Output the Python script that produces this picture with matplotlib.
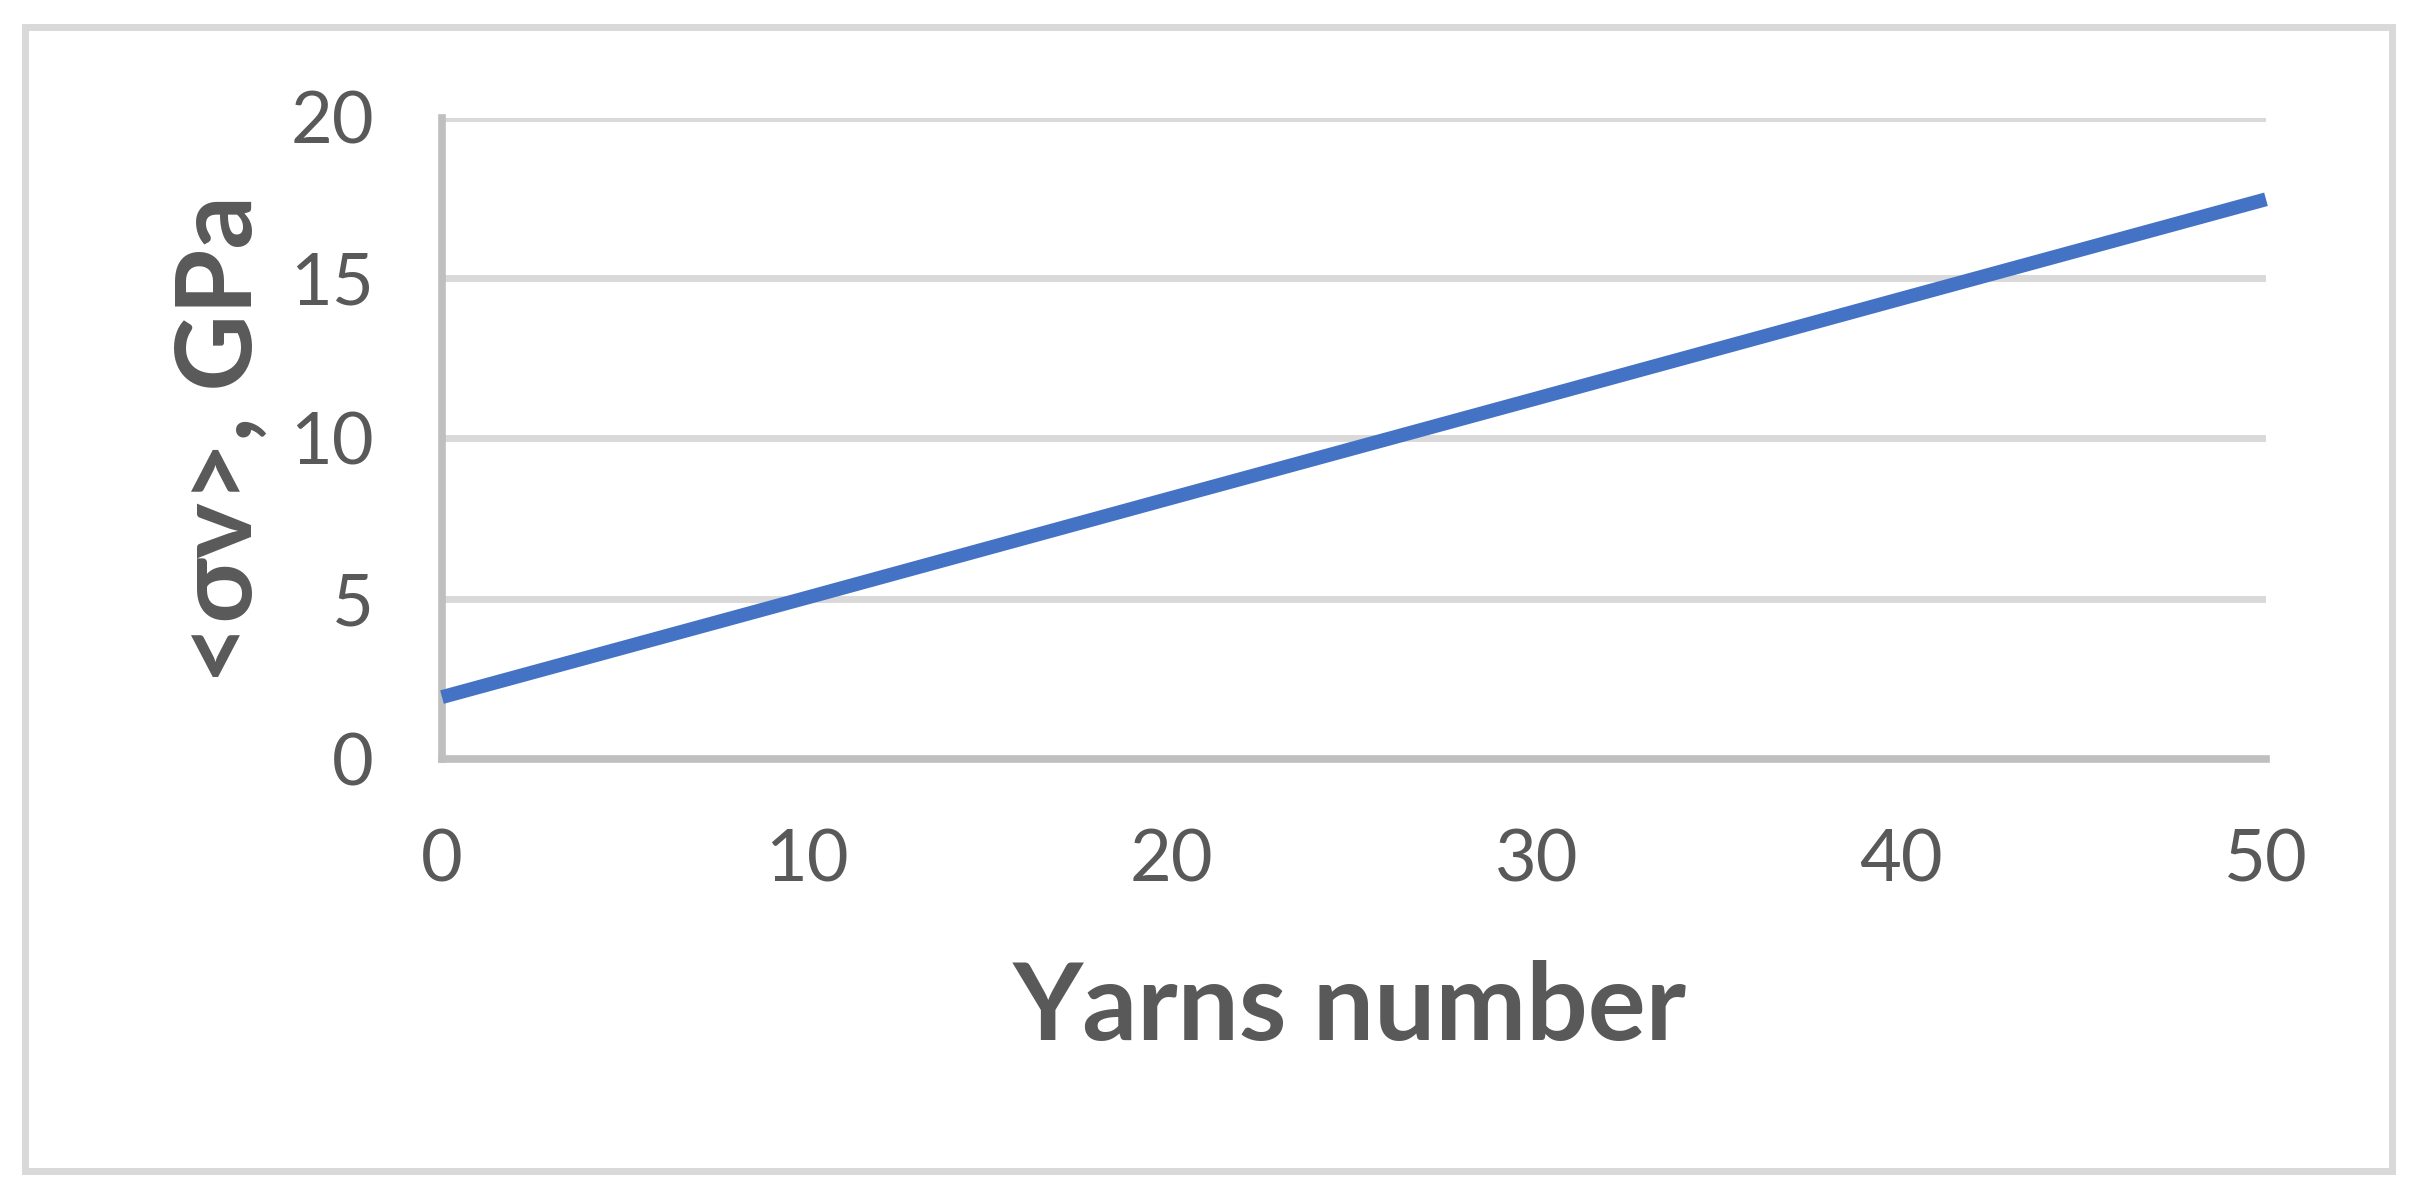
import matplotlib.pyplot as plt
from matplotlib.patches import Rectangle

# values
yarns = [0, 10, 20, 30, 40, 50]
stress = [1.93, 5.03, 8.14, 11.24, 14.35, 17.45]
x_ticks = [0, 10, 20, 30, 40, 50]
y_ticks = [0, 5, 10, 15, 20]

text_color = "#595959"
fonts = ["Lato", "DejaVu Sans"]

W, H = 2416, 1202
fig = plt.figure(figsize=(W / 100, H / 100), dpi=100)
fig.patch.set_facecolor("white")

# outer chart border
fig.patches.append(
    Rectangle((25 / W, 1 - 1170.5 / H), (2392 - 25) / W, (1170.5 - 26.5) / H,
              transform=fig.transFigure, fill=False, edgecolor="#d9d9d9",
              linewidth=5.0, zorder=0)
)

left, right, top, bottom = 442, 2266, 117.5, 759
ax = fig.add_axes([left / W, 1 - bottom / H, (right - left) / W, (bottom - top) / H])

ax.plot(yarns, stress, color="#4472c4", linewidth=10, solid_capstyle="butt",
        zorder=3, clip_on=False)

ax.set_xlim(0, 50)
ax.set_ylim(0, 20)
ax.set_xticks(x_ticks)
ax.set_yticks(y_ticks)
ax.grid(True, axis="y", color="#d9d9d9", linewidth=5.0)
ax.set_axisbelow(True)

for side in ["top", "right"]:
    ax.spines[side].set_visible(False)
for side in ["left", "bottom"]:
    ax.spines[side].set_color("#bfbfbf")
    ax.spines[side].set_linewidth(5.5)
    ax.spines[side].set_zorder(2)

ax.tick_params(length=0, labelsize=52, labelcolor=text_color)
ax.tick_params(axis="y", pad=49)
ax.tick_params(axis="x", pad=50)
for lab in ax.get_xticklabels() + ax.get_yticklabels():
    lab.set_family(fonts)

fig.text(1350 / W, 1 - 1040 / H, "Yarns number", ha="center", va="baseline",
         fontsize=78, fontweight="bold", color=text_color, family=fonts)
fig.text(222 / W, 1 - 440 / H, "<σv>, GPa", ha="center", va="center",
         rotation=90, fontsize=76, fontweight="bold", color=text_color,
         family=fonts)

fig.savefig("out.png", dpi=100, facecolor="white")
